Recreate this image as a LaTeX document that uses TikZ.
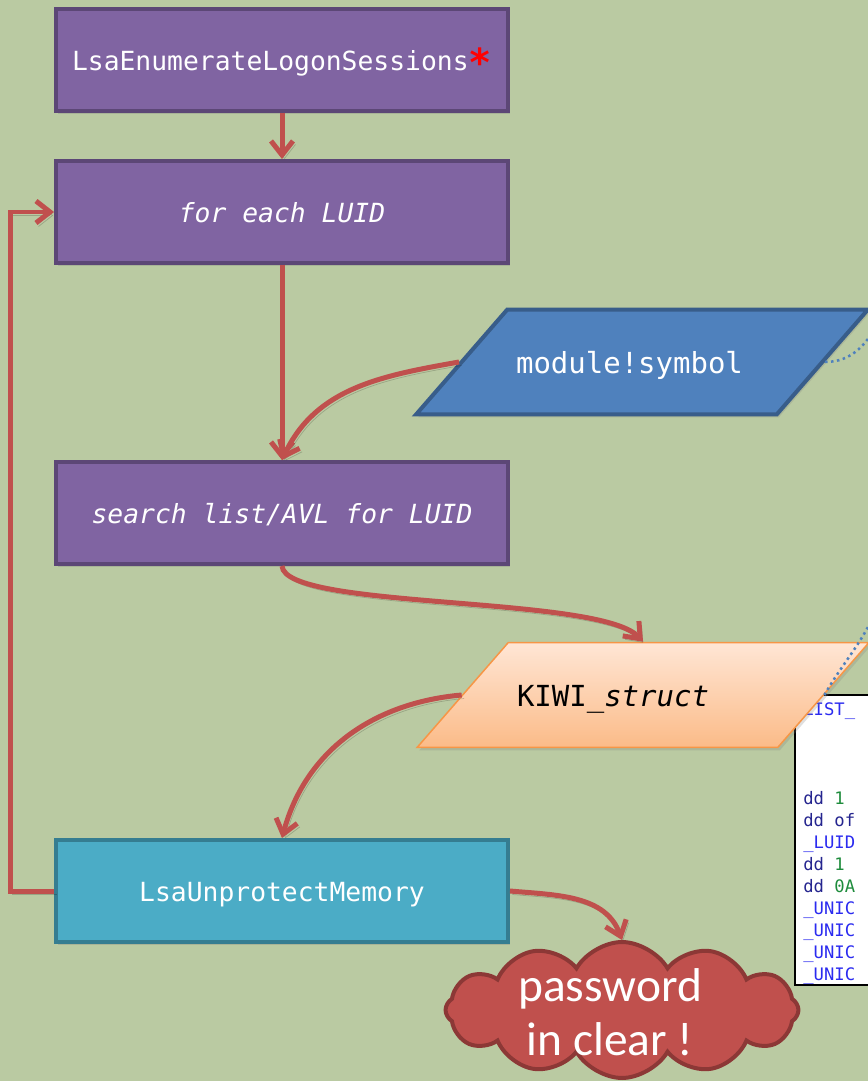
\documentclass[tikz,border=0pt]{standalone}
\usepackage{fontspec}
\setmonofont{DejaVu Sans Mono}
\setsansfont{Carlito}
\usetikzlibrary{arrows.meta,shapes.geometric,shapes.symbols,shadows}
\definecolor{bggreen}{HTML}{BACAA2}
\definecolor{boxpurple}{HTML}{8064A2}
\definecolor{boxpurpleline}{HTML}{5C4776}
\definecolor{boxcyan}{HTML}{4BACC6}
\definecolor{boxcyanline}{HTML}{357D91}
\definecolor{symblue}{HTML}{4F81BD}
\definecolor{symblueline}{HTML}{385D8A}
\definecolor{kiwitop}{HTML}{FFE6D5}
\definecolor{kiwibottom}{HTML}{FBBB88}
\definecolor{kiwiline}{HTML}{F79646}
\definecolor{arrowred}{HTML}{C0504D}
\definecolor{cloudline}{HTML}{8C3836}
\definecolor{asmnavy}{HTML}{25258F}
\definecolor{asmblue}{HTML}{2B2BF0}
\definecolor{asmgreen}{HTML}{1E8C3C}
\begin{document}
\begin{tikzpicture}[x=0.02cm, y=-0.02cm,
		apibox/.style = {draw=boxpurpleline, fill=boxpurple, line width=0.08cm, minimum width=9.04cm, minimum height=2.04cm, text height=0.46cm, text depth=0.04cm, text=white, font=\fontsize{15pt}{18pt}\selectfont\ttfamily, drop shadow={opacity=0.3, shadow xshift=0.04cm, shadow yshift=-0.06cm}},
		callbox/.style = {apibox, draw=boxcyanline, fill=boxcyan},
		datain/.style = {trapezium, trapezium left angle=49, trapezium right angle=131, trapezium stretches body=true, text height=0.52cm, text depth=0.05cm, inner ysep=0.765cm, minimum width=9.04cm, font=\fontsize{16.5pt}{20pt}\selectfont\ttfamily, drop shadow={opacity=0.25, shadow xshift=0.04cm, shadow yshift=-0.06cm}},
		flow/.style = {draw=arrowred, line width=0.1cm, -{Straight Barb[length=0.28cm, width=0.44cm]}, preaction={draw=black, opacity=0.18, transform canvas={shift={(0.05cm,-0.07cm)}}}},
		dotlink/.style = {draw=symblue, line width=0.05cm, dotted},
		asm/.style = {font=\fontsize{9.8pt}{12.5pt}\selectfont\ttfamily, inner sep=0pt, align=left}]
	\useasboundingbox (0,0) rectangle (868,1081);
	\clip (0,0) rectangle (868,1081);
	\fill[bggreen] (0,0) rectangle (868,1081);

	\draw[fill=white, line width=0.04cm] (795,695) rectangle (900,985);
	\node[asm, anchor=west] (asmHead) at (803,711) {\textcolor{asmblue}{LIST\_}};
	\node[asm, anchor=north west] (asmBody) at (803,791) {\textcolor{asmnavy}{dd} \textcolor{asmgreen}{1}\\
		\textcolor{asmnavy}{dd of}\\
		\textcolor{asmblue}{\_LUID}\\
		\textcolor{asmnavy}{dd} \textcolor{asmgreen}{1}\\
		\textcolor{asmnavy}{dd} \textcolor{asmgreen}{0A}\\
		\textcolor{asmblue}{\_UNIC}\\
		\textcolor{asmblue}{\_UNIC}\\
		\textcolor{asmblue}{\_UNIC}\\
		\textcolor{asmblue}{\_UNIC}};

	\node[apibox] (enumSess) at (282,60) {LsaEnumerateLogonSessions\textcolor{red}{\smash{\raisebox{-0.12cm}{\fontsize{22pt}{22pt}\selectfont\textbf{*}}}}};
	\node[apibox] (forEach) at (282,212) {\textit{for each LUID}};
	\node[apibox] (searchList) at (282,513) {\textit{search list/AVL for LUID}};
	\node[callbox] (unprotect) at (282,891) {LsaUnprotectMemory};
	\node[datain, draw=symblueline, fill=symblue, line width=0.08cm, text=white] (modSym) at (642,362) {module!symbol\hspace{0.5cm}\null};
	\node[datain, draw=kiwiline, top color=kiwitop, bottom color=kiwibottom, line width=0.03cm] (kiwi) at (643,695) {KIWI\_\textit{struct}\hspace{1.2cm}\null};
	\node[cloud, cloud puffs=12, cloud puff arc=120, cloud ignores aspect, minimum width=7.06cm, minimum height=2.72cm, draw=cloudline, fill=arrowred, line width=0.08cm] (clearPwd) at (622,1010) {};
	\node[text=white, align=center, font=\sffamily\fontsize{27pt}{31pt}\selectfont] (pwdText) at (610,1012) {password\\in clear !};

	\coordinate (symOut) at (880,318);
	\coordinate (kiwiOut) at (880,600);

	\draw[flow] (enumSess) to (forEach);
	\draw[flow] (forEach) to (searchList);
	\draw[flow] (modSym.west) to[out=190, in=65] (searchList.north);
	\draw[flow] (searchList.south) .. controls (285,610) and (600,595) .. (kiwi.north);
	\draw[flow] (kiwi.west) to[out=185, in=75] (unprotect.north);
	\draw[flow] (unprotect.west) -- ++(-0.88cm,0) |- (forEach.west);
	\draw[flow] (unprotect.east) to[out=-5, in=110] (clearPwd.north);

	\draw[dotlink] (modSym.east) to[out=0, in=-115] (symOut);
	\draw[dotlink] (kiwi.east) to[out=60, in=-110] (kiwiOut);
\end{tikzpicture}
\end{document}
